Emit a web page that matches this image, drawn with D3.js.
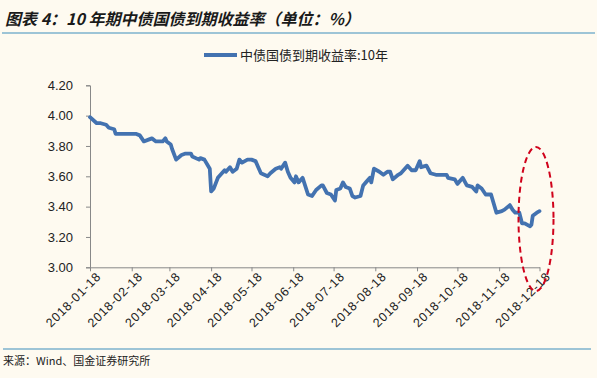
<!DOCTYPE html>
<html><head><meta charset="utf-8">
<script src="https://cdn.jsdelivr.net/npm/d3@7"></script>
<style>
html,body{margin:0;padding:0;background:#fefaf0;}
svg{display:block;}
</style></head>
<body>
<svg id="c" width="597" height="378"></svg>
<script>
const titleText = "图表 4：10 年期中债国债到期收益率（单位：%）";
const seriesName = "中债国债到期收益率:10年";
const sourceText = "来源：Wind、国金证券研究所";
const yTicks = [3.00, 3.20, 3.40, 3.60, 3.80, 4.00, 4.20];
const xTickLabels = ["2018-01-18","2018-02-18","2018-03-18","2018-04-18","2018-05-18","2018-06-18","2018-07-18","2018-08-18","2018-09-18","2018-10-18","2018-11-18","2018-12-18"];
const dates = ["2018-01-18","2018-01-23","2018-01-26","2018-01-30","2018-02-01","2018-02-05","2018-02-06","2018-02-09","2018-02-14","2018-02-21","2018-02-24","2018-02-27","2018-03-02","2018-03-05","2018-03-08","2018-03-13","2018-03-15","2018-03-16","2018-03-19","2018-03-20","2018-03-23","2018-03-27","2018-03-30","2018-04-03","2018-04-04","2018-04-09","2018-04-10","2018-04-13","2018-04-17","2018-04-18","2018-04-20","2018-04-23","2018-04-25","2018-04-28","2018-04-29","2018-05-02","2018-05-04","2018-05-07","2018-05-09","2018-05-11","2018-05-15","2018-05-18","2018-05-21","2018-05-23","2018-05-25","2018-05-30","2018-06-01","2018-06-05","2018-06-08","2018-06-09","2018-06-12","2018-06-14","2018-06-16","2018-06-19","2018-06-20","2018-06-22","2018-06-25","2018-06-29","2018-07-02","2018-07-05","2018-07-09","2018-07-10","2018-07-13","2018-07-16","2018-07-19","2018-07-20","2018-07-23","2018-07-25","2018-07-27","2018-07-30","2018-08-01","2018-08-03","2018-08-07","2018-08-09","2018-08-11","2018-08-14","2018-08-15","2018-08-17","2018-08-21","2018-08-24","2018-08-27","2018-08-29","2018-08-31","2018-09-04","2018-09-06","2018-09-11","2018-09-14","2018-09-17","2018-09-20","2018-09-21","2018-09-25","2018-09-28","2018-10-02","2018-10-10","2018-10-11","2018-10-16","2018-10-18","2018-10-22","2018-10-25","2018-10-29","2018-11-01","2018-11-02","2018-11-05","2018-11-08","2018-11-12","2018-11-16","2018-11-20","2018-11-22","2018-11-26","2018-11-28","2018-11-30","2018-12-03","2018-12-05","2018-12-07","2018-12-11","2018-12-12","2018-12-13","2018-12-16","2018-12-18"];
const yields = [3.99,3.95,3.95,3.94,3.92,3.91,3.88,3.88,3.88,3.88,3.87,3.83,3.84,3.85,3.83,3.83,3.85,3.83,3.81,3.78,3.71,3.74,3.75,3.75,3.73,3.71,3.72,3.71,3.65,3.50,3.52,3.59,3.61,3.64,3.63,3.66,3.63,3.65,3.71,3.69,3.71,3.71,3.70,3.66,3.62,3.60,3.62,3.65,3.66,3.65,3.69,3.63,3.59,3.56,3.60,3.56,3.59,3.48,3.47,3.51,3.54,3.54,3.49,3.48,3.44,3.51,3.52,3.56,3.53,3.52,3.47,3.46,3.47,3.54,3.56,3.59,3.56,3.65,3.63,3.61,3.63,3.63,3.58,3.61,3.62,3.67,3.64,3.64,3.70,3.66,3.67,3.62,3.61,3.61,3.59,3.58,3.55,3.59,3.54,3.53,3.50,3.54,3.52,3.48,3.48,3.36,3.37,3.38,3.41,3.38,3.36,3.36,3.29,3.29,3.27,3.28,3.34,3.36,3.37];

const parse = d3.utcParse("%Y-%m-%d");
const data = dates.map((d,i)=>({date:parse(d), v:yields[i]}));

const svg = d3.select("#c");
const L = 90, R = 539.5, T = 85.3, B = 267.3;
const x = d3.scaleUtc().domain([parse(xTickLabels[0]), parse(xTickLabels[xTickLabels.length-1])]).range([L,R]);
const y = d3.scaleLinear().domain([3.0,4.2]).range([B,T]);

// title
svg.append("text").attr("x",5).attr("y",25)
  .attr("font-family","'Noto Sans CJK SC', sans-serif").attr("font-size",16)
  .attr("font-weight","bold").attr("font-style","italic").attr("fill","#1a1a1a")
  .text(titleText);
svg.append("line").attr("x1",2).attr("x2",595).attr("y1",33).attr("y2",33)
  .attr("stroke","#3c8dbc").attr("stroke-width",1.2);

// legend
svg.append("line").attr("x1",204).attr("x2",237).attr("y1",55).attr("y2",55)
  .attr("stroke","#4372b0").attr("stroke-width",4);
svg.append("text").attr("x",240).attr("y",60)
  .attr("font-family","'Noto Sans CJK SC', sans-serif").attr("font-size",13).attr("fill","#222")
  .text(seriesName);

// y axis
const yAxis = svg.append("g").attr("transform",`translate(${L},0)`)
  .call(d3.axisLeft(y).tickValues(yTicks).tickFormat(d3.format(".2f")).tickSize(4).tickPadding(13));
yAxis.select(".domain").attr("stroke","#888");
yAxis.selectAll(".tick line").attr("stroke","#888");
yAxis.selectAll("text").attr("font-family","'Liberation Sans', Arial, sans-serif").attr("font-size",13).attr("fill","#222");

// x axis
const xAxis = svg.append("g").attr("transform",`translate(0,${B})`)
  .call(d3.axisBottom(x).tickValues(xTickLabels.map(parse)).tickFormat(d3.utcFormat("%Y-%m-%d")).tickSize(4).tickSizeOuter(0));
xAxis.select(".domain").attr("stroke","#888");
xAxis.selectAll(".tick line").attr("stroke","#888");
xAxis.selectAll("text").attr("font-family","'Liberation Sans', Arial, sans-serif").attr("font-size",12.5)
  .attr("fill","#222").attr("letter-spacing","0.8px")
  .attr("text-anchor","end").attr("dx","1").attr("dy","8")
  .attr("transform","rotate(-45)");

// line
const line = d3.line().x(d=>x(d.date)).y(d=>y(d.v));
svg.append("path").datum(data).attr("d",line).attr("fill","none")
  .attr("stroke","#4372b0").attr("stroke-width",3.8).attr("stroke-linejoin","round").attr("stroke-linecap","round");

// red dashed ellipse
svg.append("ellipse").attr("cx",536).attr("cy",219).attr("rx",17.5).attr("ry",72)
  .attr("fill","none").attr("stroke","#d0021b").attr("stroke-width",2).attr("stroke-dasharray","6,4");

// bottom rule & source
svg.append("line").attr("x1",3).attr("x2",591).attr("y1",349).attr("y2",349)
  .attr("stroke","#3c8dbc").attr("stroke-width",1.2);
svg.append("text").attr("x",3).attr("y",365)
  .attr("font-family","'Noto Sans CJK SC', sans-serif").attr("font-size",11).attr("fill","#222")
  .text(sourceText);
</script>
</body></html>
